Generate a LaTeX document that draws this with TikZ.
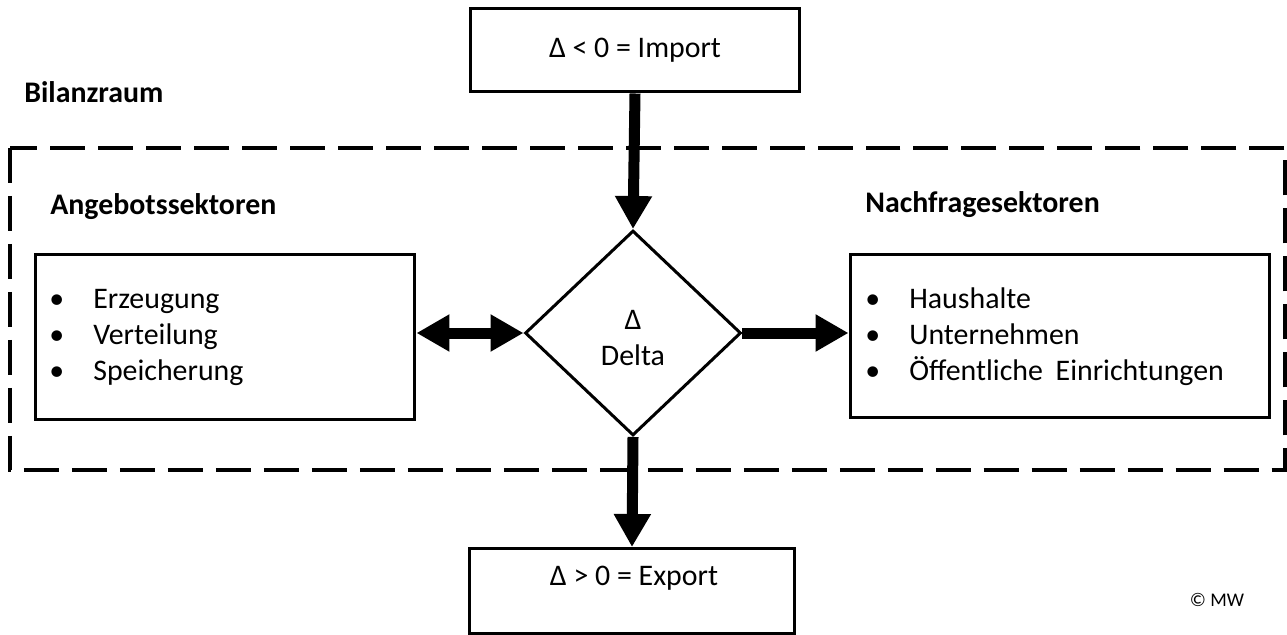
\documentclass[tikz,border=0pt]{standalone}
\usepackage{fontspec}
\setmainfont{Carlito}
\usepackage{tikz}
\usetikzlibrary{arrows.meta,shapes.geometric}

\begin{document}
\begin{tikzpicture}[x=0.02cm,y=-0.02cm,
		>={Triangle[length=0.66cm,width=0.7cm]},
		kasten/.style={draw,line width=0.06cm,inner sep=0pt},
		pfeil/.style={line width=0.22cm},
		titel/.style={anchor=west,inner sep=0pt,font=\fontsize{17}{20}\selectfont\bfseries},
		liste/.style={anchor=west,inner sep=0pt,align=left,font=\fontsize{17}{20.5}\selectfont}]
		\useasboundingbox (0,0) rectangle (1287,635);
		% Bilanzraum
		\draw[line width=0.07cm,dash pattern=on 0.7cm off 0.26cm] (10,148) rectangle (1285,470);
		\node[titel] (bilanz) at (24,92) {Bilanzraum};
		\node[titel] (angebot) at (50,207) {Angebotssektoren};
		\node[titel] (nachfrage) at (865,205) {Nachfragesektoren};
		% Kaesten
		\node[kasten,minimum width=6.6cm,minimum height=1.68cm,font=\fontsize{17}{20}\selectfont] (import) at (635,50) {\raisebox{-0.05cm}{Δ < 0 = Import}};
		\node[kasten,minimum width=6.5cm,minimum height=1.7cm] (export) at (632,591) {};
		\node[font=\fontsize{17}{20}\selectfont] (exporttext) at (634,578) {Δ > 0 = Export};
		\node[kasten,minimum width=7.6cm,minimum height=3.3cm] (links) at (225,337) {};
		\node[kasten,minimum width=8.4cm,minimum height=3.26cm] (rechts) at (1060,336) {};
		\node[liste] (angebotliste) at (49,337) {\makebox[0.88cm][l]{\textbullet}Erzeugung\\ \makebox[0.88cm][l]{\textbullet}Verteilung\\ \makebox[0.88cm][l]{\textbullet}Speicherung};
		\node[liste] (nachfrageliste) at (865,337) {\makebox[0.88cm][l]{\textbullet}Haushalte\\ \makebox[0.88cm][l]{\textbullet}Unternehmen\\ \makebox[0.88cm][l]{\textbullet}Öffentliche\hspace{0.12cm} Einrichtungen};
		% Delta
		\node[kasten,diamond,minimum width=4.32cm,minimum height=4.1cm] (delta) at (633,333) {};
		\node[align=center,font=\fontsize{17}{20.5}\selectfont] (deltatext) at (633,338) {Δ\\Delta};
		% Pfeile
		\draw[pfeil,->] (import.south) -- (delta.north);
		\draw[pfeil,->] (delta.south) -- (export.north);
		\draw[pfeil,<->] (delta.west -| links.east) -- (delta.west);
		\draw[pfeil,->] (delta.east) -- (delta.east -| rechts.west);
		\node[font=\fontsize{11}{13}\selectfont] (mw) at (1217,600) {© MW};
	\end{tikzpicture}
\end{document}
